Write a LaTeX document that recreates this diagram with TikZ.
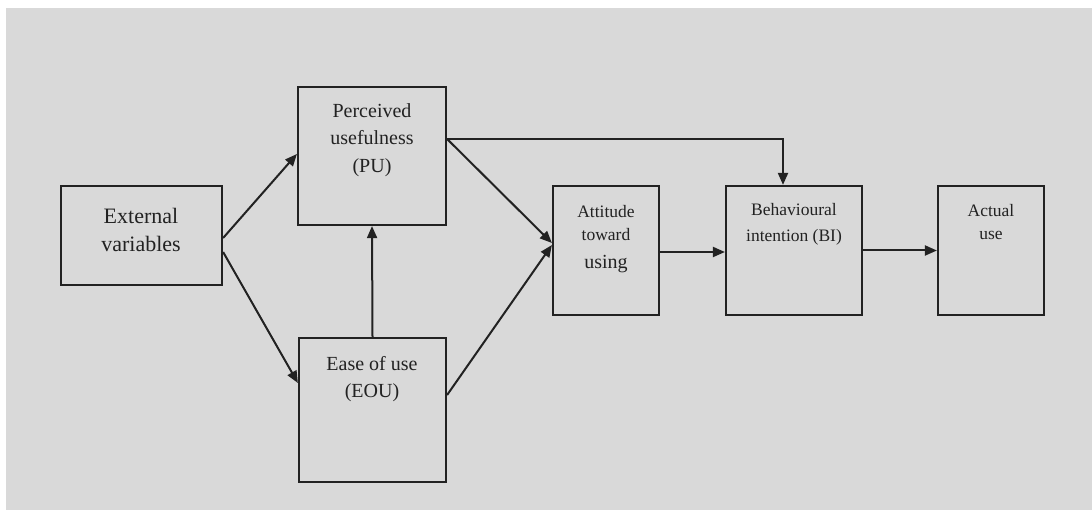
\documentclass[tikz,border=0pt]{standalone}
\usepackage{fontspec}
\setmainfont{Liberation Serif}
\usetikzlibrary{arrows.meta}
\definecolor{panel}{HTML}{D9D9D9}
\definecolor{ink}{HTML}{222222}
\begin{document}
\begin{tikzpicture}[x=1pt,y=-1pt,
  box/.style={draw=ink,line width=2.2pt,minimum width=#1,inner sep=0pt},
  lbl/.style={align=center,text=ink,inner sep=0pt},
  link/.style={draw=ink,line width=2pt,-{Triangle[length=12pt,width=10pt]}}]
  % page and grey panel
  \useasboundingbox (0,0) rectangle (1092,510);
  \fill[white] (0,0) rectangle (1092,510);
  \fill[panel] (6,8) rectangle (1092,510);

  % boxes
  \node[box=161pt,minimum height=99pt]  (ext) at (141.5,235.5) {};
  \node[box=148pt,minimum height=138pt] (pu)  at (372,156) {};
  \node[box=147pt,minimum height=144pt] (eou) at (372.5,410) {};
  \node[box=106pt,minimum height=129pt] (att) at (606,250.5) {};
  \node[box=136pt,minimum height=129pt] (bi)  at (794,250.5) {};
  \node[box=106pt,minimum height=129pt] (act) at (991,250.5) {};

  % labels
  \node[lbl,font=\fontsize{22}{28}\selectfont] (extl) at (141,230) {External\\variables};
  \node[lbl,font=\fontsize{20}{27.5}\selectfont] (pul) at (372,140) {Perceived\\usefulness\\(PU)};
  \node[lbl,font=\fontsize{20}{27}\selectfont] (eoul) at (372,379) {Ease of use\\(EOU)};
  \node[lbl,font=\fontsize{17.5}{23}\selectfont] (attl) at (606,239) {Attitude\\toward\\[5pt]{\fontsize{20}{23}\selectfont using}};
  \node[lbl,font=\fontsize{17.5}{26}\selectfont] (bil) at (794,224) {Behavioural\\intention (BI)};
  \node[lbl,font=\fontsize{17.5}{23}\selectfont] (actl) at (991,222.5) {Actual\\use};

  % connectors
  \draw[link] ([yshift=-2.5pt]ext.east) -- ([yshift=2pt]pu.west);
  \draw[link] ([yshift=-16.5pt]ext.east) -- ([yshift=27pt]eou.west);
  \draw[link] (eou.north) -- (pu.south);
  \draw[link] ([yshift=17pt]pu.east) -- ([yshift=7.5pt]att.west);
  \draw[link] ([yshift=15pt]eou.east) -- ([yshift=5.5pt]att.west);
  \draw[link] ([yshift=17pt]pu.east) -| ([xshift=-11pt]bi.north);
  \draw[link] ([yshift=-1.5pt]att.east) -- ([yshift=-1.5pt]bi.west);
  \draw[link] (bi.east) -- (act.west);
\end{tikzpicture}
\end{document}
